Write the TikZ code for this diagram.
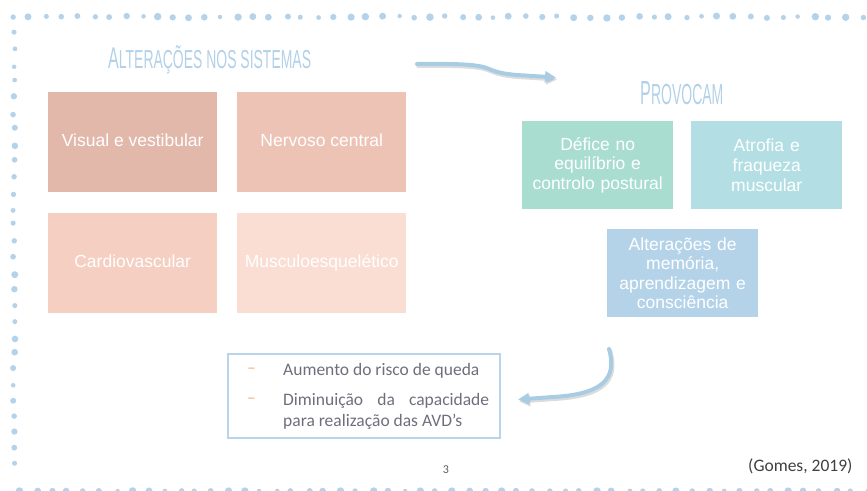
\documentclass[tikz,border=0pt]{standalone}
\usepackage{fontspec}
\setmainfont{Liberation Sans}
\newfontfamily\calfont{Carlito}
\usetikzlibrary{arrows.meta}
\definecolor{dotc}{HTML}{B4D3EA}
\definecolor{tblue}{HTML}{B2D1E8}
\definecolor{arrowc}{HTML}{A8CCE4}
\definecolor{boxA}{HTML}{E2B8AB}
\definecolor{boxB}{HTML}{EDC3B6}
\definecolor{boxC}{HTML}{F5CFC2}
\definecolor{boxD}{HTML}{FADDD3}
\definecolor{boxE}{HTML}{A9DDD0}
\definecolor{boxF}{HTML}{B3DFE4}
\definecolor{boxG}{HTML}{B4D3E8}
\definecolor{frameb}{HTML}{B8D5E9}
\definecolor{gtext}{RGB}{110,110,125}
\definecolor{dashc}{HTML}{F4B183}
\definecolor{darkg}{HTML}{404040}
\definecolor{numg}{HTML}{595959}
\begin{document}
\begin{tikzpicture}[x=1pt,y=-1pt,
  lbox/.style={rectangle, inner sep=0pt, minimum width=169pt, minimum height=100pt,
    text height=12.5pt, text depth=3.6pt,
    anchor=north west, text=white, font=\fontsize{17.5}{20}\selectfont},
  rbox/.style={rectangle, inner sep=0pt, minimum width=151pt, minimum height=88pt,
    anchor=north west, text=white, text width=150pt, align=center,
    font=\fontsize{17.5}{19.6}\selectfont},
  calline/.style={anchor=base west, inner sep=0pt, text=gtext,
    font=\calfont\fontsize{17.5}{21}\selectfont},
  dashmark/.style={anchor=base west, inner sep=0pt, text=dashc,
    font=\calfont\fontsize{17.5}{21}\selectfont},
  flowarrow/.style={draw=arrowc, line width=4pt, line cap=round,
    -{Triangle[length=11pt,width=11pt]}},
  flowshadow/.style={draw=black!45, opacity=0.3, line width=4pt, line cap=round,
    -{Triangle[length=11pt,width=11pt]}, transform canvas={shift={(1.2pt,-2pt)}}}
]
\useasboundingbox (0,0) rectangle (867,490);

% dotted frame
\pgfmathsetseed{4242}
\foreach \i in {0,...,53}{
  \pgfmathsetmacro\dx{14+16*\i+4*rnd-2}
  \pgfmathsetmacro\dy{17+2*rnd-1}
  \pgfmathsetmacro\dr{2.2+1.6*rnd}
  \fill[dotc] (\dx,\dy) circle[radius=\dr pt];
}
\foreach \i in {1,...,28}{
  \pgfmathsetmacro\dy{17+16*\i+4*rnd-2}
  \pgfmathsetmacro\dx{14+2*rnd-1}
  \pgfmathsetmacro\dr{2.2+1.6*rnd}
  \fill[dotc] (\dx,\dy) circle[radius=\dr pt];
}
\foreach \i in {0,...,53}{
  \pgfmathsetmacro\dx{20+16*\i+4*rnd-2}
  \pgfmathsetmacro\dr{2.2+1.6*rnd}
  \fill[dotc] (\dx,491) circle[radius=\dr pt];
}

% titles
\node[anchor=base west, inner sep=0pt, text=tblue] (title) at (108,68.5)
  {\scalebox{0.537}[1]{\fontsize{30}{30}\selectfont A\fontsize{26}{26}\selectfont LTERAÇÕES NOS SISTEMAS}};
\node[anchor=base west, inner sep=0pt, text=tblue] (prov) at (640,104)
  {\scalebox{0.483}[1]{\fontsize{33.5}{33.5}\selectfont P\fontsize{29}{29}\selectfont ROVOCAM}};

% left boxes
\node[lbox, fill=boxA] (vis) at (48,92) {Visual e vestibular};
\node[lbox, fill=boxB] (nerv) at (237,92) {Nervoso central};
\node[lbox, fill=boxC] (card) at (48,213) {Cardiovascular};
\node[lbox, fill=boxD] (musc) at (237,213) {Musculoesquelético};

% right boxes
\node[rbox, fill=boxE] (def) at (522,121) {Défice no\\equilíbrio e\\controlo postural};
\node[rbox, fill=boxF] (atr) at (691,121) {Atrofia e\\fraqueza\\muscular};
\node[rbox, fill=boxG] (mem) at (607,229) {Alterações de\\memória,\\aprendizagem e\\consciência};

% result box
\node[draw=frameb, line width=2.2pt, rectangle, minimum width=272pt, minimum height=84pt,
  anchor=north west, inner sep=0pt] (res) at (227,353) {};
\node[dashmark] (d1) at (247,373) {–};
\node[dashmark] (d2) at (247,403) {–};
\node[calline] (t1) at (283,375) {Aumento do risco de queda};
\node[calline] (t2) at (283,405) {\hbox to 206pt{Diminuição\hfill da\hfill capacidade}};
\node[calline] (t3) at (283,426) {para realização das AVD’s};

% arrows
\coordinate (a1s) at (417,64);
\coordinate (a1e) at (556,77.5);
\coordinate (a2s) at (609,349);
\coordinate (a2e) at (518,399.5);
\draw[flowshadow] (a1s) .. controls (460,63.5) and (478,64.5) .. (488,68.5)
  .. controls (497,72.5) and (505,74.5) .. (525,75.5) -- (a1e);
\draw[flowarrow] (a1s) .. controls (460,63.5) and (478,64.5) .. (488,68.5)
  .. controls (497,72.5) and (505,74.5) .. (525,75.5) -- (a1e);
\draw[flowshadow] (a2s) .. controls (618,380) and (600,393) .. (560,396.5) -- (a2e);
\draw[flowarrow] (a2s) .. controls (618,380) and (600,393) .. (560,396.5) -- (a2e);

% footer
\node[anchor=base, inner sep=0pt, text=numg, font=\calfont\fontsize{12}{12}\selectfont] (pg) at (446,473) {3};
\node[anchor=base west, inner sep=0pt, text=darkg, font=\calfont\fontsize{17.5}{18}\selectfont] (ref) at (748,471.5) {(Gomes, 2019)};
\end{tikzpicture}
\end{document}
